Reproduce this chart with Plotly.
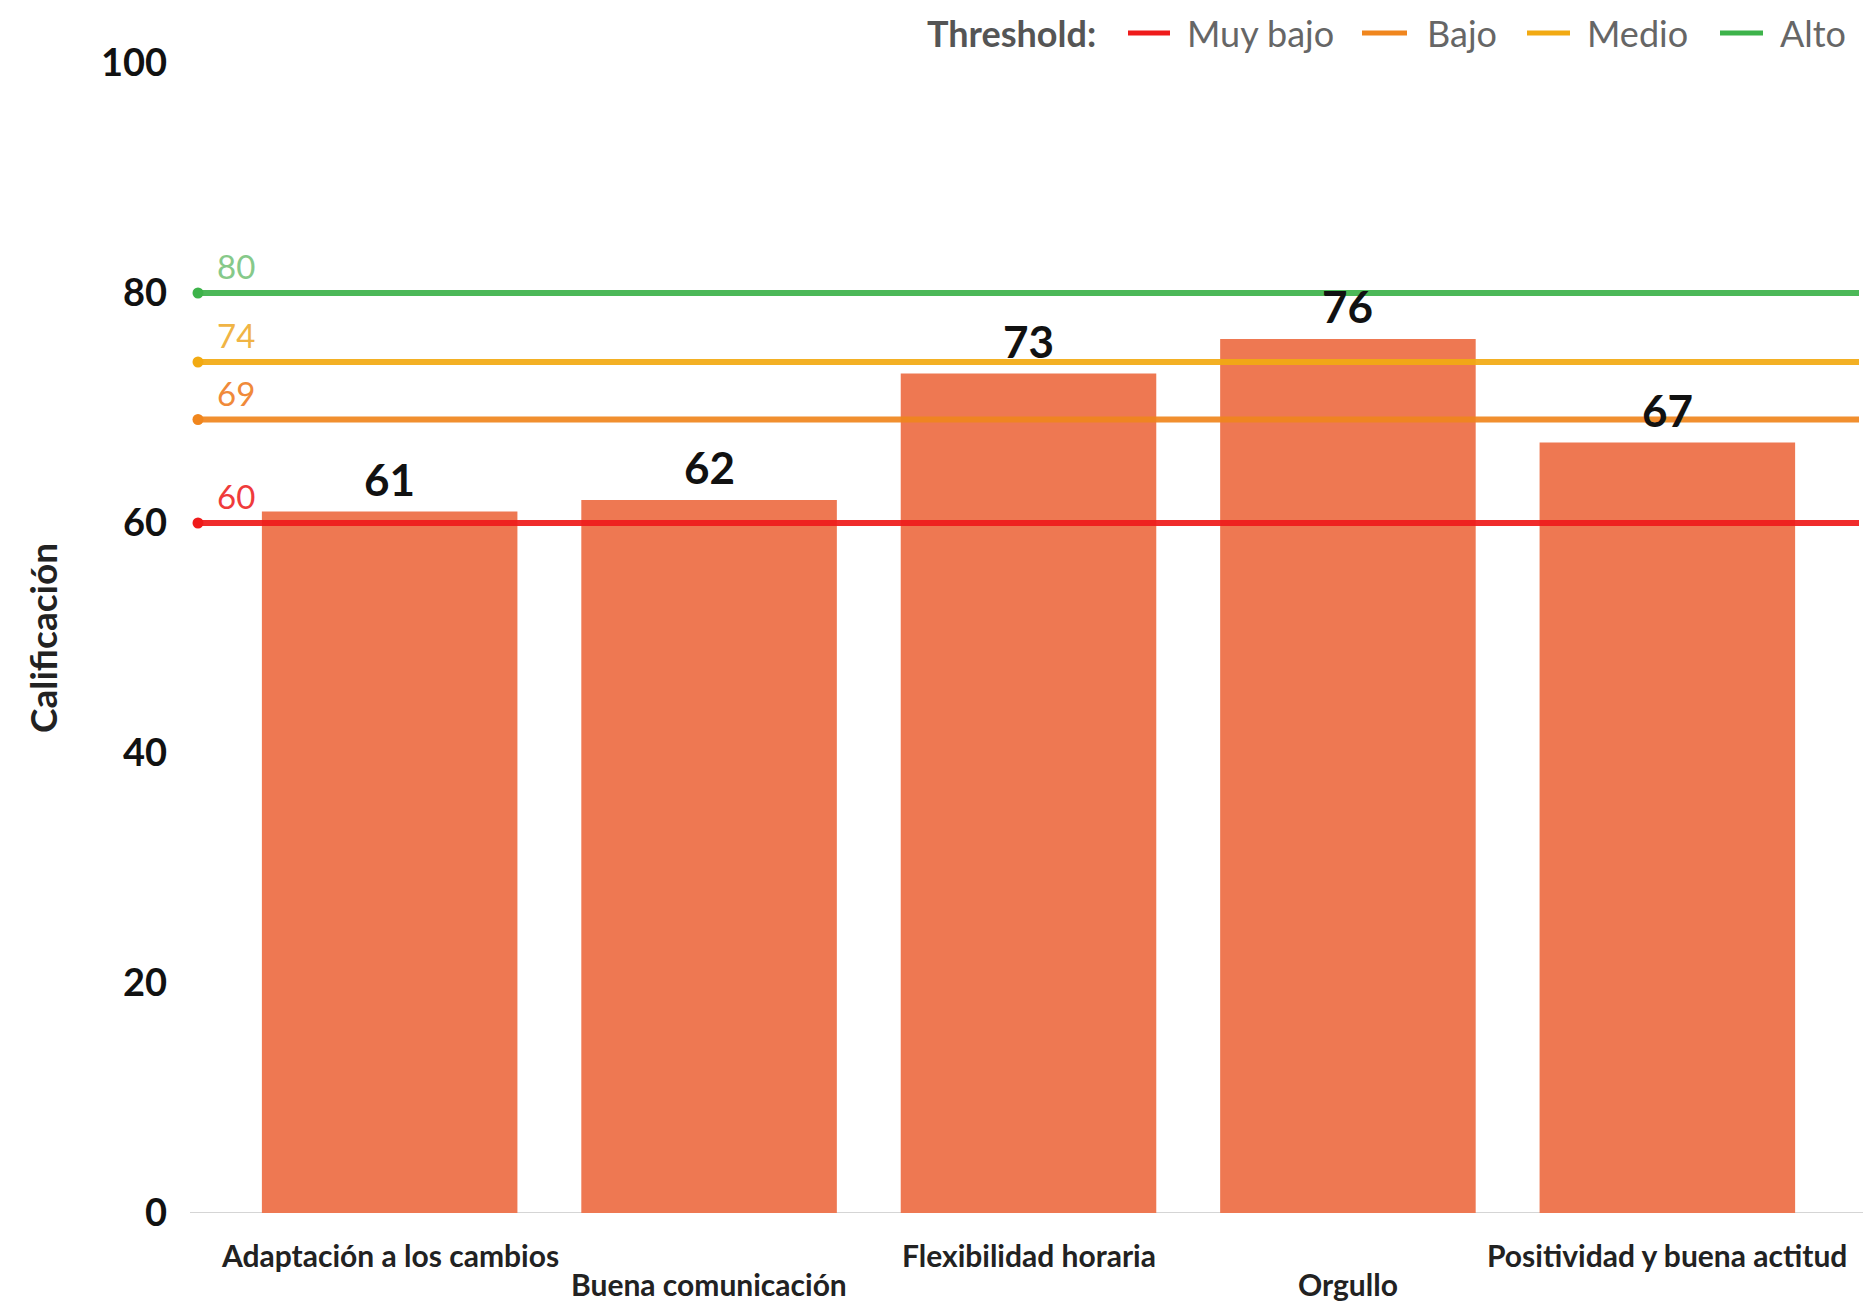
import plotly.graph_objects as go

# Scores per competency
categories = [
    "Adaptación a los cambios",
    "Buena comunicación",
    "Flexibilidad horaria",
    "Orgullo",
    "Positividad y buena actitud",
]
scores = [61, 62, 73, 76, 67]

# Threshold levels
threshold_names = ["Muy bajo", "Bajo", "Medio", "Alto"]
threshold_values = [60, 69, 74, 80]
threshold_colors = ["#EF1B1B", "#F0861E", "#F2AA12", "#3DB34A"]
threshold_label_colors = ["#EF3B3B", "#F08A3A", "#F0B445", "#86C98A"]

y_ticks = [0, 20, 40, 60, 80, 100]

BAR_COLOR = "#EE7852"
FONT = "Lato"
X_RANGE = [-0.6, 4.6]

W, H = 1863, 1301
M_L, M_R, M_T, M_B = 198, 4, 63, 88
PLOT_W = W - M_L - M_R
PLOT_H = H - M_T - M_B


def px_x(px):
    """Page pixel column -> paper x."""
    return (px - M_L) / PLOT_W


def px_y(py):
    """Page pixel row -> paper y."""
    return (H - M_B - py) / PLOT_H


fig = go.Figure()

fig.add_trace(go.Bar(
    x=list(range(len(categories))),
    y=scores,
    marker=dict(color=BAR_COLOR, line=dict(width=0)),
    showlegend=False,
    hoverinfo="skip",
))

for name, val, col in zip(threshold_names, threshold_values, threshold_colors):
    fig.add_trace(go.Scatter(
        x=X_RANGE,
        y=[val, val],
        mode="lines",
        line=dict(color=col, width=6),
        opacity=0.92,
        name=name,
        showlegend=False,
        hoverinfo="skip",
    ))
    # round cap at the start of each threshold line
    fig.add_trace(go.Scatter(
        x=[X_RANGE[0]],
        y=[val],
        mode="markers",
        marker=dict(color=col, size=11),
        showlegend=False,
        hoverinfo="skip",
        cliponaxis=False,
    ))

annotations = []
shapes = []

# value labels above bars
for i, v in enumerate(scores):
    annotations.append(dict(
        x=i, y=v, xref="x", yref="y",
        text=str(v), showarrow=False,
        yanchor="bottom", yshift=5,
        font=dict(family=FONT, size=44, color="#111111", weight="bold"),
    ))

# threshold value labels at the left end
for val, col in zip(threshold_values, threshold_label_colors):
    annotations.append(dict(
        x=px_x(236), y=val, xref="paper", yref="y",
        text=str(val), showarrow=False,
        xanchor="center", yanchor="middle", yshift=27,
        font=dict(family=FONT, size=33, color=col),
    ))

# staggered category labels
for i, c in enumerate(categories):
    annotations.append(dict(
        x=i, y=0, xref="x", yref="paper",
        text=c, showarrow=False,
        yanchor="middle", yshift=-42 if i % 2 == 0 else -71,
        font=dict(family=FONT, size=30, color="#222222", weight="bold"),
    ))

# y-axis title
annotations.append(dict(
    x=px_x(42), y=0.5, xref="paper", yref="paper",
    text="Calificación", showarrow=False, textangle=-90,
    xanchor="center", yanchor="middle",
    font=dict(family=FONT, size=37, color="#222222", weight="bold"),
))

# baseline
shapes.append(dict(
    type="line", xref="paper", yref="y",
    x0=px_x(190), x1=px_x(W), y0=0, y1=0,
    line=dict(color="#D5D5D5", width=2),
    layer="below",
))

# legend row across the top
LEG_Y = px_y(33)
annotations.append(dict(
    x=px_x(925), y=LEG_Y, xref="paper", yref="paper",
    text="Threshold:", showarrow=False,
    xanchor="left", yanchor="middle",
    font=dict(family=FONT, size=36, color="#555555", weight="bold"),
))
legend_line_px = [(1128, 1170), (1362, 1407), (1527, 1570), (1720, 1763)]
legend_text_px = [1185, 1425, 1585, 1778]
for name, col, (x0, x1), tx in zip(threshold_names, threshold_colors,
                                   legend_line_px, legend_text_px):
    shapes.append(dict(
        type="line", xref="paper", yref="paper",
        x0=px_x(x0), x1=px_x(x1), y0=LEG_Y, y1=LEG_Y,
        line=dict(color=col, width=5),
    ))
    annotations.append(dict(
        x=px_x(tx), y=LEG_Y, xref="paper", yref="paper",
        text=name, showarrow=False,
        xanchor="left", yanchor="middle",
        font=dict(family=FONT, size=36, color="#666666"),
    ))

fig.update_layout(
    width=W,
    height=H,
    margin=dict(l=M_L, r=M_R, t=M_T, b=M_B),
    paper_bgcolor="white",
    plot_bgcolor="white",
    bargap=0.2,
    showlegend=False,
    annotations=annotations,
    shapes=shapes,
    xaxis=dict(
        range=X_RANGE,
        showticklabels=False,
        showgrid=False,
        zeroline=False,
        showline=False,
        ticks="",
    ),
    yaxis=dict(
        range=[0, 100],
        tickvals=y_ticks,
        showgrid=False,
        zeroline=False,
        showline=False,
        ticks="",
        ticklabelstandoff=30,
        tickfont=dict(family=FONT, size=38, color="#111111", weight="bold"),
    ),
)

fig.write_html("out.html")
